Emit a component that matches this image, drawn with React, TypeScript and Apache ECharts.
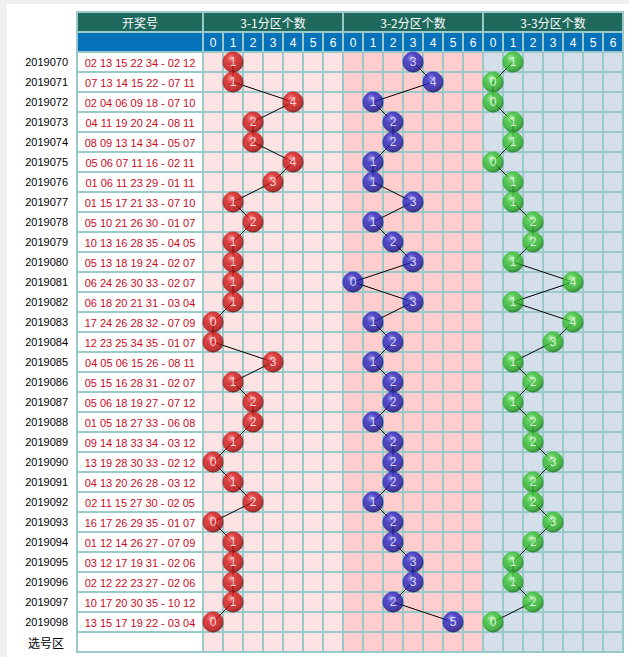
import React, { useEffect, useRef } from 'react';
import * as echarts from 'echarts';

const issues = [
  '2019070', '2019071', '2019072', '2019073', '2019074', '2019075', '2019076', '2019077',
  '2019078', '2019079', '2019080', '2019081', '2019082', '2019083', '2019084', '2019085',
  '2019086', '2019087', '2019088', '2019089', '2019090', '2019091', '2019092', '2019093',
  '2019094', '2019095', '2019096', '2019097', '2019098',
];

const draws = [
  '02 13 15 22 34 - 02 12', '07 13 14 15 22 - 07 11', '02 04 06 09 18 - 07 10',
  '04 11 19 20 24 - 08 11', '08 09 13 14 34 - 05 07', '05 06 07 11 16 - 02 11',
  '01 06 11 23 29 - 01 11', '01 15 17 21 33 - 07 10', '05 10 21 26 30 - 01 07',
  '10 13 16 28 35 - 04 05', '05 13 18 19 24 - 02 07', '06 24 26 30 33 - 02 07',
  '06 18 20 21 31 - 03 04', '17 24 26 28 32 - 07 09', '12 23 25 34 35 - 01 07',
  '04 05 06 15 26 - 08 11', '05 15 16 28 31 - 02 07', '05 06 18 19 27 - 07 12',
  '01 05 18 27 33 - 06 08', '09 14 18 33 34 - 03 12', '13 19 28 30 33 - 02 12',
  '04 13 20 26 28 - 03 12', '02 11 15 27 30 - 02 05', '16 17 26 29 35 - 01 07',
  '01 12 14 26 27 - 07 09', '03 12 17 19 31 - 02 06', '02 12 22 23 27 - 02 06',
  '10 17 20 30 35 - 10 12', '13 15 17 19 22 - 03 04',
];

const zone1Counts = [1, 1, 4, 2, 2, 4, 3, 1, 2, 1, 1, 1, 1, 0, 0, 3, 1, 2, 2, 1, 0, 1, 2, 0, 1, 1, 1, 1, 0];
const zone2Counts = [3, 4, 1, 2, 2, 1, 1, 3, 1, 2, 3, 0, 3, 1, 2, 1, 2, 2, 1, 2, 2, 2, 1, 2, 2, 3, 3, 2, 5];
const zone3Counts = [1, 0, 0, 1, 1, 0, 1, 1, 2, 2, 1, 4, 1, 4, 3, 1, 2, 1, 2, 2, 3, 2, 2, 3, 2, 1, 1, 2, 0];

const groupTitles = ['3-1分区个数', '3-2分区个数', '3-3分区个数'];
const digitLabels = ['0', '1', '2', '3', '4', '5', '6'];
const drawHeader = '开奖号';
const footerLabel = '选号区';

const GRID_LINE = '#99c9c9';
const HEAD_DARK = '#1e695b';
const HEAD_BLUE = '#0672ba';
const GROUP_BG = ['#fde3e3', '#ffcdcd', '#d4dfe9'];
const DRAW_RED = '#cc0a1e';
const LATIN = '"Liberation Sans", Arial, sans-serif';
const CJK = '"Noto Sans CJK SC", sans-serif';

const BALL_STOPS = [
  ['#ff7a7a', '#d41a1a', '#b80c0c', '#700000'],
  ['#7f7ff8', '#2a2ac4', '#1c1ca6', '#0a0a52'],
  ['#a8f59a', '#3cc634', '#28ab22', '#0f6a0f'],
];

export default function App() {
  const ref = useRef<HTMLDivElement>(null);

  useEffect(() => {
    const chart = echarts.init(ref.current as HTMLDivElement, undefined, { renderer: 'svg' });
    const rows = ['', '', ...issues, footerLabel];
    const nRows = rows.length;
    const cols: string[] = [];
    groupTitles.forEach((_, g) => digitLabels.forEach((d) => cols.push(g + '-' + d)));
    const groups = [zone1Counts, zone2Counts, zone3Counts];

    const drawColData = rows.map((_, r) => [0, r]);
    const cellData: number[][] = [];
    for (let r = 1; r < nRows; r++) {
      for (let c = 0; c < cols.length; c++) cellData.push([c, r]);
    }
    const headData = groupTitles.map((_, g) => [g * 7 + 3, 0, g]);

    const series: any[] = [
      {
        type: 'custom',
        xAxisIndex: 0,
        yAxisIndex: 0,
        z: 1,
        silent: true,
        data: drawColData,
        renderItem: (params: any, api: any) => {
          const r = api.value(1);
          const p = api.coord([api.value(0), r]);
          const s = api.size([1, 1]);
          const fill = r === 0 ? HEAD_DARK : r === 1 ? HEAD_BLUE : '#ffffff';
          const children: any[] = [
            {
              type: 'rect',
              shape: { x: p[0] - s[0] / 2, y: p[1] - s[1] / 2, width: s[0], height: s[1] },
              style: { fill, stroke: GRID_LINE, lineWidth: 2 },
            },
          ];
          let text = '';
          let color = '#fff';
          let font = '12px ' + CJK;
          if (r === 0) text = drawHeader;
          else if (r >= 2 && r < nRows - 1) {
            text = draws[r - 2];
            color = DRAW_RED;
            font = '11px ' + LATIN;
          }
          if (text) {
            children.push({
              type: 'text',
              style: { text, x: p[0], y: p[1] + 0.5, align: 'center', verticalAlign: 'middle', fill: color, font },
            });
          }
          return { type: 'group', children };
        },
      },
      {
        type: 'custom',
        xAxisIndex: 1,
        yAxisIndex: 1,
        z: 1,
        silent: true,
        data: cellData,
        renderItem: (params: any, api: any) => {
          const c = api.value(0);
          const r = api.value(1);
          const p = api.coord([c, r]);
          const s = api.size([1, 1]);
          const fill = r === 1 ? HEAD_BLUE : GROUP_BG[Math.floor(c / 7)];
          const children: any[] = [
            {
              type: 'rect',
              shape: { x: p[0] - s[0] / 2, y: p[1] - s[1] / 2, width: s[0], height: s[1] },
              style: { fill, stroke: GRID_LINE, lineWidth: 2 },
            },
          ];
          if (r === 1) {
            children.push({
              type: 'text',
              style: {
                text: digitLabels[c % 7], x: p[0], y: p[1] + 0.5, align: 'center', verticalAlign: 'middle',
                fill: '#fff', font: '12px ' + LATIN,
              },
            });
          }
          return { type: 'group', children };
        },
      },
      {
        type: 'custom',
        xAxisIndex: 1,
        yAxisIndex: 1,
        z: 1,
        silent: true,
        data: headData,
        renderItem: (params: any, api: any) => {
          const p = api.coord([api.value(0), api.value(1)]);
          const s = api.size([1, 1]);
          const g = api.value(2);
          return {
            type: 'group',
            children: [
              {
                type: 'rect',
                shape: { x: p[0] - 3.5 * s[0], y: p[1] - s[1] / 2, width: 7 * s[0], height: s[1] },
                style: { fill: HEAD_DARK, stroke: GRID_LINE, lineWidth: 2 },
              },
              {
                type: 'text',
                style: {
                  text: groupTitles[g], x: p[0], y: p[1] + 0.5, align: 'center', verticalAlign: 'middle',
                  fill: '#fff', font: '12px ' + CJK,
                },
              },
            ],
          };
        },
      },
    ];

    groups.forEach((vals, g) => {
      const pts = vals.map((v, i) => [g * 7 + v, i + 2, v]);
      series.push({
        type: 'line',
        xAxisIndex: 1,
        yAxisIndex: 1,
        z: 3,
        silent: true,
        symbol: 'none',
        lineStyle: { color: '#000', width: 1 },
        data: pts,
      });
      const st = BALL_STOPS[g];
      series.push({
        type: 'scatter',
        xAxisIndex: 1,
        yAxisIndex: 1,
        z: 4,
        silent: true,
        symbol: 'circle',
        symbolSize: 21,
        itemStyle: {
          color: new echarts.graphic.RadialGradient(0.4, 0.32, 0.7, [
            { offset: 0, color: st[0] },
            { offset: 0.3, color: st[1] },
            { offset: 0.75, color: st[2] },
            { offset: 1, color: st[3] },
          ]),
        },
        label: {
          show: true,
          position: 'inside',
          color: '#fff',
          fontSize: 12,
          fontFamily: LATIN,
          formatter: (p: any) => String(p.value[2]),
        },
        data: pts,
      });
    });

    chart.setOption({
      animation: false,
      backgroundColor: '#ffffff',
      graphic: [
        { type: 'rect', left: 0, top: 0, shape: { width: 7, height: 657 }, style: { fill: '#f0f0f0' }, silent: true },
        { type: 'rect', left: 0, top: 0, shape: { width: 629, height: 4 }, style: { fill: '#f0f0f0' }, silent: true },
      ],
      grid: [
        { left: 77, top: 12, width: 126, height: 640 },
        { left: 203, top: 12, width: 420, height: 640 },
      ],
      xAxis: [
        { type: 'category', gridIndex: 0, data: [drawHeader], show: false },
        { type: 'category', gridIndex: 1, data: cols, show: false },
      ],
      yAxis: [
        {
          type: 'category',
          gridIndex: 0,
          data: rows,
          inverse: true,
          axisLine: { show: false },
          axisTick: { show: false },
          splitLine: { show: false },
          axisLabel: {
            interval: 0,
            margin: 9,
            color: '#000',
            fontSize: 11,
            fontFamily: LATIN,
            formatter: (v: string) => (v === footerLabel ? '{s|' + v + '}' : v),
            rich: { s: { fontSize: 12, fontFamily: CJK, color: '#000', padding: [0, 4, 0, 0] } },
          },
        },
        { type: 'category', gridIndex: 1, data: rows, inverse: true, show: false },
      ],
      series,
    });

    return () => chart.dispose();
  }, []);

  return <div ref={ref} style={{ position: 'fixed', left: 0, top: 0, width: 629, height: 657 }} />;
}
